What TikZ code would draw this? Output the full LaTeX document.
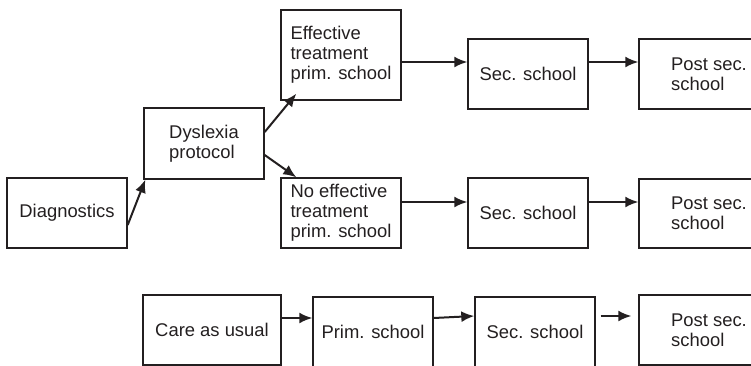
\documentclass[tikz,border=0pt]{standalone}
\usepackage{fontspec}
\setmainfont{Liberation Sans}
\usepackage{tikz}
\usetikzlibrary{arrows.meta,calc}
\definecolor{ink}{RGB}{35,31,32}

\begin{document}
\begin{tikzpicture}[x=1pt, y=-1pt,
    box/.style={draw=ink, line width=1.4pt, text=ink, align=left,
        minimum width=120pt, minimum height=70pt, inner sep=0pt,
        font=\fontsize{18.4}{20}\selectfont},
    arr/.style={-{Latex[length=13pt,width=11pt]}, draw=ink, line width=2pt}]
    \clip (0,0) rectangle (751,365);
    % Interventionsgruppe
    \node[box] (diag) at (67,213) {Diagnostics};
    \node[box, minimum height=71pt] (dys) at (204,143.5) {Dyslexia\\protocol};
    \node[box, minimum height=90pt] (eff) at (341,55) {Effective\\treatment\\prim. school};
    \node[box] (sec1) at (528,74) {Sec. school};
    \node[box, minimum width=140pt] (post1) at (709,74) {Post sec.\\school};
    \node[box] (noeff) at (341,213) {No effective\\treatment\\prim. school};
    \node[box] (sec2) at (528,213) {Sec. school};
    \node[box, minimum width=140pt, minimum height=69pt] (post2) at (709,213.5) {Post sec.\\school};
    % Kontrollgruppe
    \node[box, minimum width=138pt] (care) at (212,330) {Care as usual};
    \node[box] (prim) at (373,332) {Prim. school};
    \node[box] (sec3) at (535,332) {Sec. school};
    \node[box, minimum width=140pt] (post3) at (709,330) {Post sec.\\school};

    \draw[arr] ($(diag.east)+(0,12)$) -- ($(dys.south west)+(2,0)$);
    \draw[arr] ($(dys.east)+(0,-11.5)$) -- ($(eff.south west)+(16,-7)$);
    \draw[arr] ($(dys.east)+(0,11.5)$) -- ($(noeff.north west)+(16,0)$);
    \draw[arr] ($(eff.east)+(0,7)$) coordinate (e1) -- (e1 -| sec1.west);
    \draw[arr] ($(sec1.east)+(0,-12)$) coordinate (s1) -- (s1 -| post1.west);
    \draw[arr] ($(noeff.east)+(0,-11)$) coordinate (n1) -- (n1 -| sec2.west);
    \draw[arr] ($(sec2.east)+(0,-11)$) coordinate (s2) -- (s2 -| post2.west);
    \draw[arr] ($(care.east)+(0,-12)$) coordinate (c1) -- (c1 -| prim.west);
    \draw[arr] ($(prim.east)+(0,-14)$) -- ($(sec3.west)+(0,-16)$);
    \coordinate (f1) at ($(sec3.east)+(5,-16)$);
    \coordinate (f2) at ($(post3.west)+(-7,-14)$);
    \draw[arr] (f1) -- (f2);
\end{tikzpicture}
\end{document}
